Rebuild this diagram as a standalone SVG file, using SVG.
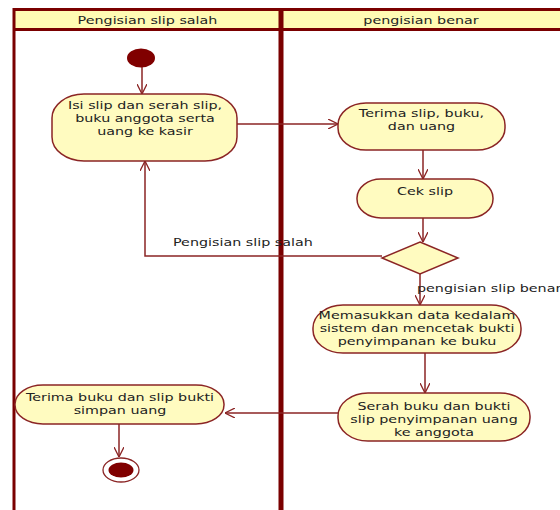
<svg xmlns="http://www.w3.org/2000/svg" width="560" height="510" viewBox="0 0 560 510">
  <style>
    .lane { stroke: #7a0000; fill: none; }
    .head { fill: #fffbb4; }
    .node { fill: #fffbc0; stroke: #8b2525; stroke-width: 1.5; }
    .edge { fill: none; stroke: #8b2525; stroke-width: 1.5; }
    text { font-family: "DejaVu Sans", Verdana, sans-serif; font-size: 11px; fill: #222; }
    .c { text-anchor: middle; }
    .solid { fill: #800000; }
  </style>
  <defs>
    <marker id="open" viewBox="0 0 10 10" refX="10" refY="5" markerWidth="10" markerHeight="10" markerUnits="userSpaceOnUse" orient="auto">
      <path d="M0,0 L10,5 L0,10" fill="none" stroke="#8b2525" stroke-width="1.3"/>
    </marker>
  </defs>
  <rect width="560" height="510" fill="#ffffff"/>

  <!-- swimlanes; all labels use a wide (horizontally stretched) face -->
  <g id="lanes">
    <rect class="head" x="14" y="9.5" width="546" height="20"/>
    <line class="lane" x1="14" y1="9.5" x2="560" y2="9.5" stroke-width="3"/>
    <line class="lane" x1="14" y1="29.5" x2="560" y2="29.5" stroke-width="3"/>
    <line class="lane" x1="14" y1="8" x2="14" y2="510" stroke-width="3"/>
    <line class="lane" x1="281" y1="8" x2="281" y2="510" stroke-width="5"/>
    <text class="c" transform="translate(147.5,24) scale(1.3,1)">Pengisian slip salah</text>
    <text class="c" transform="translate(421,24) scale(1.3,1)">pengisian benar</text>
  </g>

  <!-- connectors -->
  <g id="connectors">
    <path class="edge" d="M142,67 L142,94" marker-end="url(#open)"/>
    <path class="edge" d="M237,124 L338,124" marker-end="url(#open)"/>
    <path class="edge" d="M423,150 L423,179" marker-end="url(#open)"/>
    <path class="edge" d="M423,218 L423,242" marker-end="url(#open)"/>
    <path class="edge" d="M382,256 L145,256 L145,161" marker-end="url(#open)"/>
    <path class="edge" d="M420,274 L420,305" marker-end="url(#open)"/>
    <path class="edge" d="M425,353 L425,393" marker-end="url(#open)"/>
    <path class="edge" d="M338,413 L225,413" marker-end="url(#open)"/>
    <path class="edge" d="M119,424 L119,457" marker-end="url(#open)"/>
    <text transform="translate(173,246) scale(1.3,1)">Pengisian slip salah</text>
    <text transform="translate(417,292) scale(1.3,1)">pengisian slip benar</text>
  </g>

  <!-- nodes -->
  <g id="start">
    <ellipse class="solid" cx="141" cy="58" rx="14" ry="9.5"/>
  </g>
  <g id="isi-slip">
    <rect class="node" x="52" y="94" width="185" height="67" rx="32" ry="24"/>
    <text class="c" transform="translate(145,109) scale(1.3,1)">Isi slip dan serah slip,</text>
    <text class="c" transform="translate(145,122) scale(1.3,1)">buku anggota serta</text>
    <text class="c" transform="translate(145,135) scale(1.3,1)">uang ke kasir</text>
  </g>
  <g id="terima-slip">
    <rect class="node" x="338" y="103" width="167" height="47" rx="28" ry="22"/>
    <text class="c" transform="translate(421.5,117) scale(1.3,1)">Terima slip, buku,</text>
    <text class="c" transform="translate(421.5,130) scale(1.3,1)">dan uang</text>
  </g>
  <g id="cek-slip">
    <rect class="node" x="357" y="179" width="136" height="39" rx="24" ry="19"/>
    <text class="c" transform="translate(425,195) scale(1.3,1)">Cek slip</text>
  </g>
  <g id="decision">
    <polygon class="node" points="420,242 458,258 420,274 382,258"/>
  </g>
  <g id="memasukkan-data">
    <rect class="node" x="313" y="305" width="208" height="48" rx="30" ry="23"/>
    <text class="c" transform="translate(417,319) scale(1.3,1)">Memasukkan data kedalam</text>
    <text class="c" transform="translate(417,332) scale(1.3,1)">sistem dan mencetak bukti</text>
    <text class="c" transform="translate(417,345) scale(1.3,1)">penyimpanan ke buku</text>
  </g>
  <g id="serah-buku">
    <rect class="node" x="338" y="393" width="192" height="48" rx="30" ry="23"/>
    <text class="c" transform="translate(434,409.5) scale(1.3,1)">Serah buku dan bukti</text>
    <text class="c" transform="translate(434,422.5) scale(1.3,1)">slip penyimpanan uang</text>
    <text class="c" transform="translate(434,435.5) scale(1.3,1)">ke anggota</text>
  </g>
  <g id="terima-buku">
    <rect class="node" x="15" y="385" width="209" height="39" rx="28" ry="19"/>
    <text class="c" transform="translate(120,401) scale(1.3,1)">Terima buku dan slip bukti</text>
    <text class="c" transform="translate(120,414) scale(1.3,1)">simpan uang</text>
  </g>
  <g id="end">
    <ellipse cx="121" cy="470" rx="18" ry="12" fill="#ffffff" stroke="#8b2525" stroke-width="1.3"/>
    <ellipse class="solid" cx="121" cy="470" rx="12.5" ry="7.5"/>
  </g>
</svg>
